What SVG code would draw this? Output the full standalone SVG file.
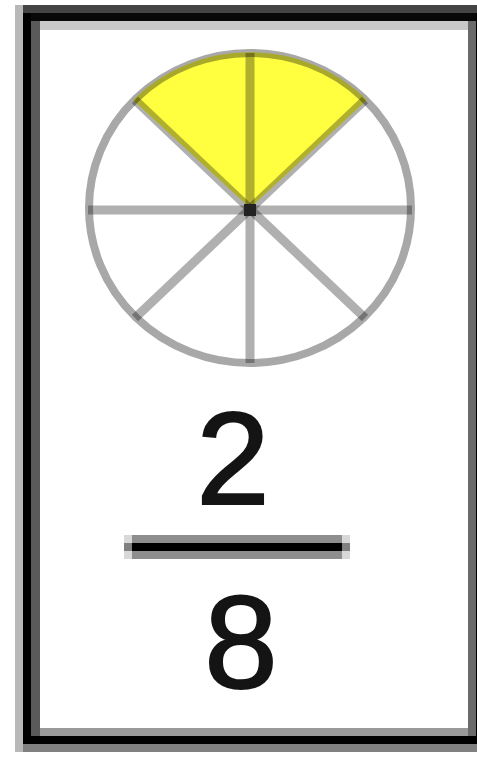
<svg xmlns="http://www.w3.org/2000/svg" width="477" height="758" viewBox="0 0 477 758">
  <style>
    .spoke { stroke: #b0b0b0; stroke-width: 9; fill: none; mix-blend-mode: multiply; }
    .rim { stroke: #a8a8a8; stroke-width: 8; fill: none; mix-blend-mode: multiply; }
    .num { font-family: "Liberation Sans", Arial, sans-serif; font-size: 132px; fill: #141414; stroke: #141414; stroke-width: 2; text-anchor: middle; }
  </style>
  <rect x="0" y="0" width="477" height="758" fill="#ffffff"/>
  <g id="frame">
    <rect x="15" y="5" width="8" height="747" fill="#b8b8b8"/>
    <rect x="23" y="5" width="454" height="8" fill="#444444"/>
    <rect x="23" y="744" width="454" height="8" fill="#808080"/>
    <rect x="23" y="13" width="454" height="8" fill="#080808"/>
    <rect x="23" y="13" width="8" height="731" fill="#000000"/>
    <rect x="23" y="736" width="454" height="8" fill="#000000"/>
    <rect x="476" y="13" width="1" height="731" fill="#000000"/>
    <rect x="40" y="21" width="428" height="9" fill="#c8c8c8"/>
    <rect x="31" y="21" width="9" height="715" fill="#5a5a5a"/>
    <rect x="40" y="728" width="428" height="8" fill="#999999"/>
    <rect x="468" y="21" width="8" height="715" fill="#6a6a6a"/>
  </g>
  <g id="pie">
    <path d="M250 208 L133 100 A162 155 0 0 1 367 100 Z" fill="#ffff40"/>
    <g id="spokes">
      <line class="spoke" x1="250" y1="53" x2="250" y2="363"/>
      <line class="spoke" x1="88" y1="210" x2="412" y2="210"/>
      <line class="spoke" x1="135" y1="100" x2="365" y2="318"/>
      <line class="spoke" x1="365" y1="100" x2="135" y2="318"/>
    </g>
    <ellipse class="rim" cx="250" cy="208" rx="161" ry="155"/>
    <rect x="244" y="204" width="12" height="12" fill="#222222"/>
  </g>
  <g id="fraction">
    <text class="num" x="233" y="504">2</text>
    <rect x="124" y="535" width="226" height="24" fill="#d8d8d8"/>
    <rect x="132" y="535" width="210" height="24" fill="#8e8e8e"/>
    <rect x="124" y="543" width="226" height="8" fill="#808080"/>
    <rect x="132" y="543" width="210" height="8" fill="#000000"/>
    <text class="num" x="241" y="688">8</text>
  </g>
</svg>
